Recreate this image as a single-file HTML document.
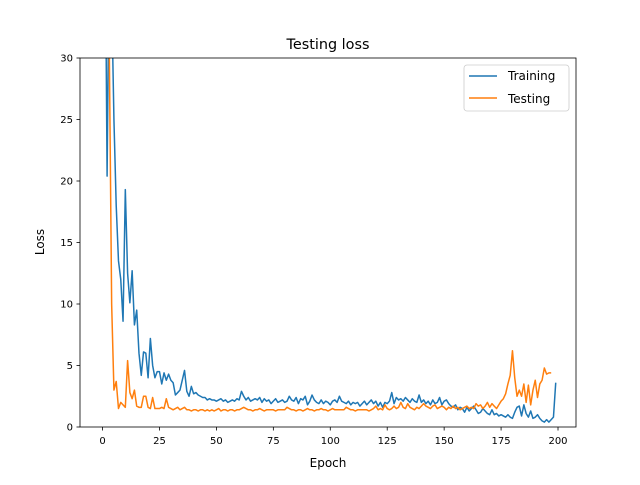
<!DOCTYPE html>
<html><head><meta charset="utf-8"><style>
body{margin:0;background:#fff;font-family:"Liberation Sans","DejaVu Sans",sans-serif}
svg text{font-family:"DejaVu Sans","Liberation Sans",sans-serif}
</style></head><body>
<svg id="chart" width="640" height="480" xmlns="http://www.w3.org/2000/svg">
<rect width="640" height="480" fill="#fff"/>
<text x="328" y="49" font-size="14.4" text-anchor="middle" fill="#000">Testing loss</text>
<defs><clipPath id="clip"><rect x="80" y="58" width="496" height="369"/></clipPath></defs>
<g id="xticks"></g>
<g id="yticks"></g>
<g id="series" clip-path="url(#clip)"></g>
<rect x="80" y="58" width="496" height="369" fill="none" stroke="#000" stroke-width="0.8"/>
<text x="328" y="467" font-size="12" text-anchor="middle">Epoch</text>
<text transform="translate(44,242) rotate(-90)" font-size="12" text-anchor="middle">Loss</text>
<g>
<rect x="464" y="65" width="105" height="46" rx="3" fill="#fff" stroke="#ccc" stroke-width="0.8"/>
<line x1="469" y1="76" x2="497" y2="76" stroke="#1f77b4" stroke-width="1.5"/>
<text x="508" y="80" font-size="12">Training</text>
<line x1="469" y1="98" x2="497" y2="98" stroke="#ff7f0e" stroke-width="1.5"/>
<text x="508" y="103" font-size="12">Testing</text>
</g>
</svg>
<script>
const xTicks=[0,25,50,75,100,125,150,175,200];
const yTicks=[0,5,10,15,20,25,30];
const training=[60,45,20.4,40,35,25,18,13.5,12,8.6,19.3,12.5,10.1,12.7,8.3,9.5,6,4.2,6.1,6,4,7.2,5,4,4.5,4.5,3.5,4.4,3.8,4.3,3.8,3.6,2.6,2.8,3,3.8,4.6,2.9,2.5,3.3,2.7,2.8,2.6,2.5,2.4,2.4,2.2,2.3,2.2,2.2,
2.1,2.2,2.3,2.1,2.2,2.0,2.1,2.2,2.1,2.3,2.2,2.9,2.5,2.2,2.4,2.1,2.2,2.3,2.2,2.4,2.0,2.3,2.1,2.2,1.9,2.1,2.3,2.0,2.1,2.2,2.0,2.1,2.5,2.2,2.1,2.4,1.9,2.3,2.2,2.5,1.8,2.1,2.6,2.2,2.0,1.9,2.2,1.9,2.1,2.0,1.8,2.1,2.2,2.0,2.5,2.1,2.0,1.9,2.1,1.8,2.0,1.9,2.0,1.7,1.9,2.1,1.8,2.0,2.2,1.9,2.1,1.7,2.0,1.6,2.0,1.9,2.1,2.8,1.9,2.4,2.2,2.3,2.1,2.4,2.2,2.0,2.3,2.1,2.0,2.6,2.0,2.2,1.9,2.1,1.8,2.2,1.9,2.0,2.4,1.8,2.1,2.2,1.9,1.7,1.6,1.8,1.4,1.6,1.5,1.2,1.6,1.3,1.5,1.7,1.4,1.1,1.2,1.5,1.3,1.1,1.0,1.4,1.0,1.1,0.9,1.0,0.9,0.8,1.0,0.8,0.7,1.2,1.6,1.7,0.9,1.8,1.1,0.8,1.3,0.7,0.8,1.0,0.7,0.5,0.4,0.6,0.4,0.6,0.8,3.6];
const testing=[60,50,40,30,10,3,3.7,1.5,2,1.8,1.6,5.4,2.8,2.3,3,1.7,1.6,1.6,2.5,2.5,1.6,1.5,2.4,1.5,1.5,1.5,1.6,1.5,2.3,1.6,
1.5,1.4,1.5,1.6,1.4,1.5,1.6,1.4,1.4,1.3,1.4,1.4,1.3,1.4,1.4,1.3,1.4,1.3,1.4,1.3,1.4,1.5,1.3,1.4,1.4,1.3,1.4,1.4,1.3,1.4,1.4,1.5,1.6,1.5,1.4,1.4,1.3,1.4,1.4,1.5,1.4,1.3,1.4,1.4,1.4,1.4,1.3,1.4,1.4,1.4,1.4,1.6,1.5,1.4,1.4,1.3,1.4,1.4,1.3,1.4,1.5,1.4,1.4,1.3,1.4,1.4,1.5,1.4,1.4,1.3,1.4,1.5,1.4,1.4,1.4,1.4,1.4,1.6,1.5,1.4,1.4,1.3,1.4,1.4,1.4,1.4,1.4,1.3,1.4,1.5,1.7,1.4,1.5,1.4,1.8,1.5,1.4,1.5,1.7,1.5,1.6,2.0,1.6,1.5,1.9,1.6,1.5,1.4,1.6,1.5,1.7,1.9,1.7,1.6,1.5,1.7,1.8,1.5,1.6,1.7,1.6,1.4,1.6,1.5,1.7,1.5,1.6,1.4,1.5,1.6,1.7,1.5,1.6,1.5,1.9,1.7,1.8,1.5,1.7,2.0,1.6,1.9,1.7,1.5,1.8,2.1,2.3,2.7,3.5,4.2,6.2,4,2.5,3,2.5,3.5,2,3.4,1.8,3,3.8,2.4,3.5,3.8,4.8,4.3,4.4,4.4];
const NS="http://www.w3.org/2000/svg";
const X0=80,X1=576,Y0=427,Y1=58,XMIN=-9.9,XMAX=207.9,YMIN=0,YMAX=30;
function xs(v){return X0+(v-XMIN)/(XMAX-XMIN)*(X1-X0);}
function ys(v){return Y0-(v-YMIN)/(YMAX-YMIN)*(Y0-Y1);}
const xg=document.getElementById('xticks'),yg=document.getElementById('yticks'),sg=document.getElementById('series');
xTicks.forEach(t=>{
 const l=document.createElementNS(NS,'line');
 
 
 l.setAttribute('x1',xs(t));l.setAttribute('x2',xs(t));l.setAttribute('y1',Y0);l.setAttribute('y2',Y0+3.5);l.setAttribute('stroke','#000');l.setAttribute('stroke-width','0.8');xg.appendChild(l);
 const tx=document.createElementNS(NS,'text');
 
 
 tx.setAttribute('x',xs(t));tx.setAttribute('y',Y0+17);tx.setAttribute('font-size','10');tx.setAttribute('text-anchor','middle');tx.textContent=t;xg.appendChild(tx);
});
yTicks.forEach(t=>{
 const l=document.createElementNS(NS,'line');
 
 
 l.setAttribute('x1',X0-3.5);l.setAttribute('x2',X0);l.setAttribute('y1',ys(t));l.setAttribute('y2',ys(t));l.setAttribute('stroke','#000');l.setAttribute('stroke-width','0.8');yg.appendChild(l);
 const tx=document.createElementNS(NS,'text');
 
 
 tx.setAttribute('x',X0-7);tx.setAttribute('y',ys(t)+3.5);tx.setAttribute('font-size','10');tx.setAttribute('text-anchor','end');tx.textContent=t;yg.appendChild(tx);
});
function line(data,color,name){
 const p=document.createElementNS(NS,'path');
 
 
 p.setAttribute('d',data.map((v,i)=>(i?'L':'M')+xs(i).toFixed(2)+','+ys(v).toFixed(2)).join(''));
 p.setAttribute('fill','none');p.setAttribute('stroke',color);p.setAttribute('stroke-width','1.5');p.setAttribute('stroke-linejoin','round');
 sg.appendChild(p);
}
line(training,'#1f77b4','training-line');
line(testing,'#ff7f0e','testing-line');
</script>
</body></html>
